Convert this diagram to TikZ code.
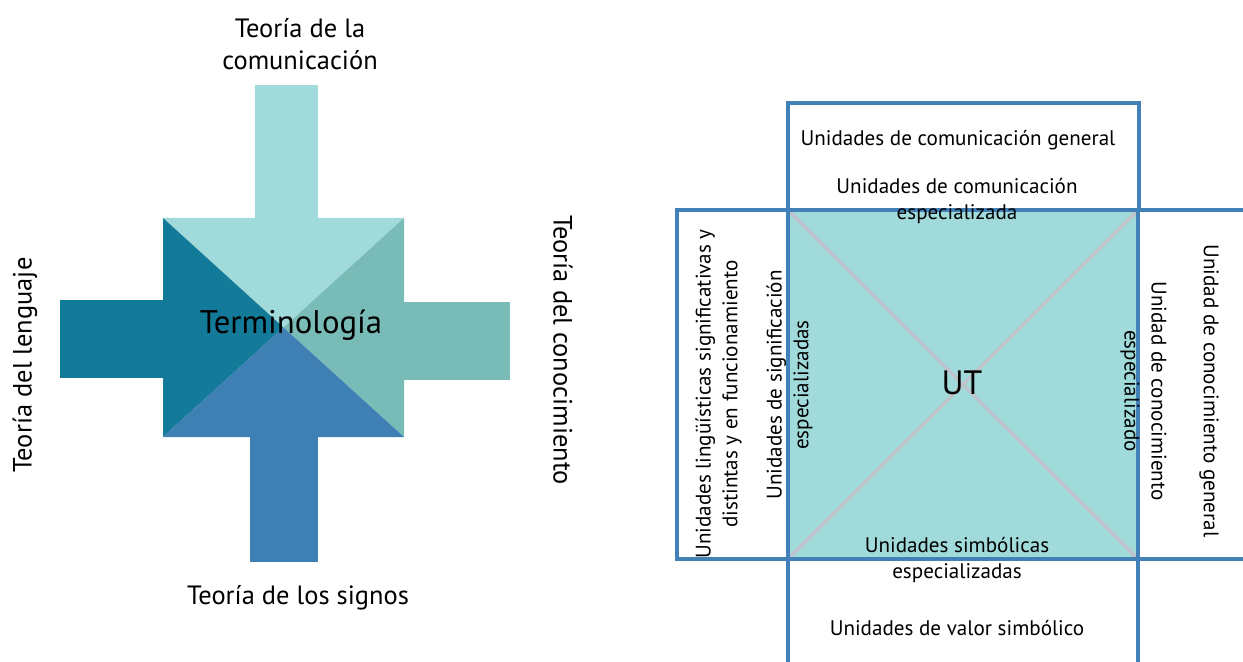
\documentclass[tikz,border=0pt]{standalone}
\usepackage{fontspec}
\setmainfont{PT Sans}
\definecolor{commlight}{RGB}{160,218,219}
\definecolor{langdark}{RGB}{20,122,154}
\definecolor{knowteal}{RGB}{120,187,183}
\definecolor{signblue}{RGB}{63,128,180}
\definecolor{boxblue}{RGB}{66,129,184}
\definecolor{crossgray}{RGB}{191,195,204}
\tikzset{
  labeltext/.style={inner sep=0pt, align=center, font=\fontsize{18.8}{22.7}\selectfont},
  unittext/.style={inner sep=0pt, align=center, font=\fontsize{15}{19.1}\selectfont},
  unitbox/.style={draw=boxblue, line width=2.7pt},
}
\begin{document}
\begin{tikzpicture}[x=0.025cm,y=-0.025cm]
\useasboundingbox (0,0) rectangle (1243,662);

% arrow shafts
\fill[commlight] (255,85) rectangle (318,219);
\fill[langdark] (60,300) rectangle (164,378);
\fill[knowteal] (403,302) rectangle (510,380);
\fill[signblue] (250,436) rectangle (318,562);

% arrow heads
\coordinate (mid) at (283.5,327.5);
\fill[commlight] (163,218) -- (404,218) -- (mid) -- cycle;
\fill[langdark] (163,218) -- (163,437) -- (mid) -- cycle;
\fill[knowteal] (404,218) -- (404,437) -- (mid) -- cycle;
\fill[signblue] (163,437) -- (404,437) -- (mid) -- cycle;

% theories
\node[labeltext] (comunicacion) at (300,44) {Teoría de la\\comunicación};
\node[labeltext, rotate=90] (lenguaje) at (25,365) {Teoría del lenguaje};
\node[labeltext, rotate=-90] (conocimiento) at (563,350) {Teoría del conocimiento};
\node[labeltext] (signos) at (298,598) {Teoría de los signos};
\node[inner sep=0pt, font=\fontsize{23.3}{26}\selectfont] (terminologia) at (291,325) {Terminología};

% central square
\fill[commlight] (788,210) rectangle (1138,559);
\draw[crossgray, line width=2.4pt] (788,210) -- (1138,559);
\draw[crossgray, line width=2.4pt] (1138,210) -- (788,559);

% boxes
\draw[unitbox] (788,103) rectangle (1139,210);
\draw[unitbox] (677,210) rectangle (788,559);
\draw[unitbox] (788,210) rectangle (1138,559);
\draw[unitbox] (1138,210) rectangle (1250,559);
\draw[unitbox] (788,559) rectangle (1138,670);

% units
\node[unittext] (general) at (958,140) {Unidades de comunicación general};
\node[unittext] (especializada) at (957,201) {Unidades de comunicación\\especializada};
\node[inner sep=0pt, font=\fontsize{24}{26}\selectfont] (ut) at (962,383) {UT};
\node[unittext, rotate=90] (linguisticas) at (718.5,394) {Unidades lingüísticas significativas y\\distintas y en funcionamiento};
\node[unittext, rotate=90] (significacion) at (789.5,385) {Unidades de significación\\especializadas};
\node[unittext, rotate=-90] (especializado) at (1143.5,391) {Unidad de conocimiento\\especializado};
\node[unittext, rotate=-90] (conocgeneral) at (1209,391) {Unidad de conocimiento general};
\node[unittext] (simbolicas) at (957,560) {Unidades simbólicas\\especializadas};
\node[unittext] (valor) at (957,628) {Unidades de valor simbólico};

\end{tikzpicture}
\end{document}
